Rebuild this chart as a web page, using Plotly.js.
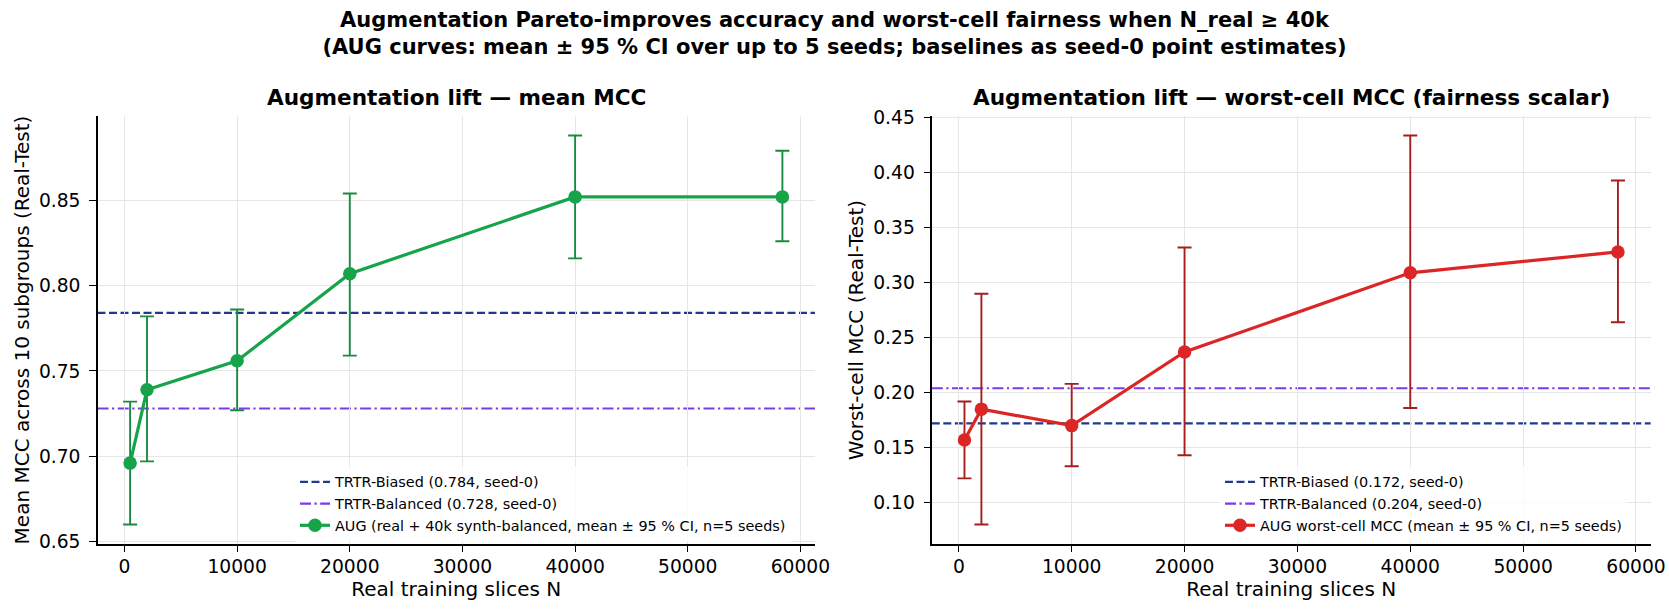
<!DOCTYPE html>
<html>
<head>
<meta charset="utf-8">
<script src="https://cdn.plot.ly/plotly-3.0.1.min.js"></script>
<style>html,body{margin:0;padding:0;background:#fff;}#chart{width:1669px;height:615px;}</style>
</head>
<body>
<div id="chart"></div>
<script>
// ---- data ----
const N_real = [500, 2000, 10000, 20000, 40000, 58400];
const mean_mcc = [0.696, 0.739, 0.756, 0.807, 0.852, 0.852];
const mean_mcc_lo = [0.660, 0.697, 0.727, 0.759, 0.816, 0.826];
const mean_mcc_hi = [0.732, 0.782, 0.786, 0.854, 0.888, 0.879];
const worst_mcc = [0.157, 0.185, 0.170, 0.237, 0.309, 0.328];
const worst_mcc_lo = [0.122, 0.080, 0.133, 0.143, 0.186, 0.264];
const worst_mcc_hi = [0.192, 0.290, 0.208, 0.332, 0.434, 0.393];
const baseline_mean = {biased: 0.784, balanced: 0.728};
const baseline_worst = {biased: 0.172, balanced: 0.204};
const xticks = [0, 10000, 20000, 30000, 40000, 50000, 60000];
const yticks_left = [0.65, 0.70, 0.75, 0.80, 0.85];
const yticks_right = [0.10, 0.15, 0.20, 0.25, 0.30, 0.35, 0.40, 0.45];

const FONT = 'DejaVu Sans, Verdana, sans-serif';
const W = 1669, H = 615;
function pad(lo, hi) { const d = hi - lo; return [lo - 0.05 * d, hi + 0.05 * d]; }
const xr = pad(Math.min(...N_real), Math.max(...N_real));
const yrL = pad(Math.min(...mean_mcc_lo), Math.max(...mean_mcc_hi));
const yrR = pad(Math.min(...worst_mcc_lo), Math.max(...worst_mcc_hi));

const up = (hi, m) => hi.map((v, i) => v - m[i]);
const dn = (lo, m) => m.map((v, i) => v - lo[i]);

const traces = [
  {
    x: N_real, y: mean_mcc, xaxis: 'x', yaxis: 'y', type: 'scatter', mode: 'lines+markers',
    name: 'AUG (real + 40k synth-balanced, mean ± 95 % CI, n=5 seeds)',
    line: {color: '#16a34a', width: 3.2}, marker: {color: '#16a34a', size: 13.5},
    error_y: {type: 'data', symmetric: false, array: up(mean_mcc_hi, mean_mcc), arrayminus: dn(mean_mcc_lo, mean_mcc),
      color: '#1a8a42', thickness: 1.9, width: 7},
    legend: 'legend', legendrank: 3
  },
  {
    x: N_real, y: worst_mcc, xaxis: 'x2', yaxis: 'y2', type: 'scatter', mode: 'lines+markers',
    name: 'AUG worst-cell MCC (mean ± 95 % CI, n=5 seeds)',
    line: {color: '#dc2626', width: 3.2}, marker: {color: '#dc2626', size: 13.5},
    error_y: {type: 'data', symmetric: false, array: up(worst_mcc_hi, worst_mcc), arrayminus: dn(worst_mcc_lo, worst_mcc),
      color: '#a51d1d', thickness: 1.9, width: 7},
    legend: 'legend2', legendrank: 3
  }
];

function hline(xref, yref, y, color, dash, name, legend, rank) {
  return {type: 'line', xref: xref + ' domain', yref: yref, x0: 0, x1: 1, y0: y, y1: y,
    line: {color: color, width: 2.2, dash: dash}, showlegend: true, name: name, legend: legend, legendrank: rank, layer: 'below'};
}
const BLUE = '#1e3a8a', PURPLE = '#7c3aed';
const DASH = '8px,3.5px', DASHDOT = '11px,3.5px,2.2px,3.5px';
const shapes = [
  hline('x', 'y', baseline_mean.biased, BLUE, DASH, 'TRTR-Biased (' + baseline_mean.biased.toFixed(3) + ', seed-0)', 'legend', 1),
  hline('x', 'y', baseline_mean.balanced, PURPLE, DASHDOT, 'TRTR-Balanced (' + baseline_mean.balanced.toFixed(3) + ', seed-0)', 'legend', 2),
  hline('x2', 'y2', baseline_worst.biased, BLUE, DASH, 'TRTR-Biased (' + baseline_worst.biased.toFixed(3) + ', seed-0)', 'legend2', 1),
  hline('x2', 'y2', baseline_worst.balanced, PURPLE, DASHDOT, 'TRTR-Balanced (' + baseline_worst.balanced.toFixed(3) + ', seed-0)', 'legend2', 2)
];

const yTop = 116, yBot = 544;
const ydom = [(H - yBot) / H, (H - yTop) / H];
const axBase = {
  showline: true, linecolor: '#000', linewidth: 1.5, mirror: false,
  ticks: 'outside', ticklen: 6.5, tickwidth: 1.4, tickcolor: '#000',
  showgrid: true, gridcolor: '#e6e6e6', gridwidth: 1.2, zeroline: false,
  tickfont: {family: FONT, size: 18.7, color: '#000'}
};
const xaxisBase = Object.assign({}, axBase, {
  tickvals: xticks, tickformat: 'd', range: xr, ticklabelstandoff: -2,
  title: {text: 'Real training slices N', font: {family: FONT, size: 20, color: '#000'}, standoff: 6}
});

const legendBase = {
  xanchor: 'left', yanchor: 'top', bgcolor: 'rgba(255,255,255,0.8)', borderwidth: 0,
  font: {family: FONT, size: 14.4, color: '#000'}, tracegroupgap: 0, itemwidth: 30
};

const layout = {
  width: W, height: H,
  margin: {l: 0, r: 0, t: 0, b: 0},
  paper_bgcolor: '#fff', plot_bgcolor: '#fff',
  font: {family: FONT, color: '#000'},
  title: {
    text: 'Augmentation Pareto-improves accuracy and worst-cell fairness when N_real ≥ 40k<br>(AUG curves: mean ± 95 % CI over up to 5 seeds; baselines as seed-0 point estimates)',
    font: {family: FONT, size: 21, weight: 'bold', color: '#000'},
    x: 0.5, xanchor: 'center', y: 1 - 27 / H, yanchor: 'top', xref: 'paper', yref: 'container'
  },
  xaxis: Object.assign({}, xaxisBase, {domain: [97.5 / W, 815 / W], anchor: 'y'}),
  yaxis: Object.assign({}, axBase, {domain: ydom, anchor: 'x', range: yrL, tickvals: yticks_left, tickformat: '.2f', ticklabelstandoff: 5,
    title: {text: 'Mean MCC across 10 subgroups (Real-Test)', font: {family: FONT, size: 20, color: '#000'}, standoff: 4}}),
  xaxis2: Object.assign({}, xaxisBase, {domain: [931.8 / W, 1650.6 / W], anchor: 'y2'}),
  yaxis2: Object.assign({}, axBase, {domain: ydom, anchor: 'x2', range: yrR, tickvals: yticks_right, tickformat: '.2f', ticklabelstandoff: 5,
    title: {text: 'Worst-cell MCC (Real-Test)', font: {family: FONT, size: 20, color: '#000'}, standoff: 4}}),
  legend: Object.assign({}, legendBase, {x: 295 / W, y: (H - 466) / H}),
  legend2: Object.assign({}, legendBase, {x: 1220 / W, y: (H - 466) / H}),
  shapes: shapes,
  annotations: [
    {text: 'Augmentation lift — mean MCC', xref: 'paper', yref: 'paper', x: (97.5 + 815) / 2 / W, y: (H - 98) / H,
      xanchor: 'center', yanchor: 'middle', showarrow: false, font: {family: FONT, size: 21.6, weight: 'bold', color: '#000'}},
    {text: 'Augmentation lift — worst-cell MCC (fairness scalar)', xref: 'paper', yref: 'paper', x: (931.8 + 1650.6) / 2 / W, y: (H - 98) / H,
      xanchor: 'center', yanchor: 'middle', showarrow: false, font: {family: FONT, size: 21.6, weight: 'bold', color: '#000'}}
  ]
};

Plotly.newPlot('chart', traces, layout, {displayModeBar: false, responsive: false});
</script>
</body>
</html>
